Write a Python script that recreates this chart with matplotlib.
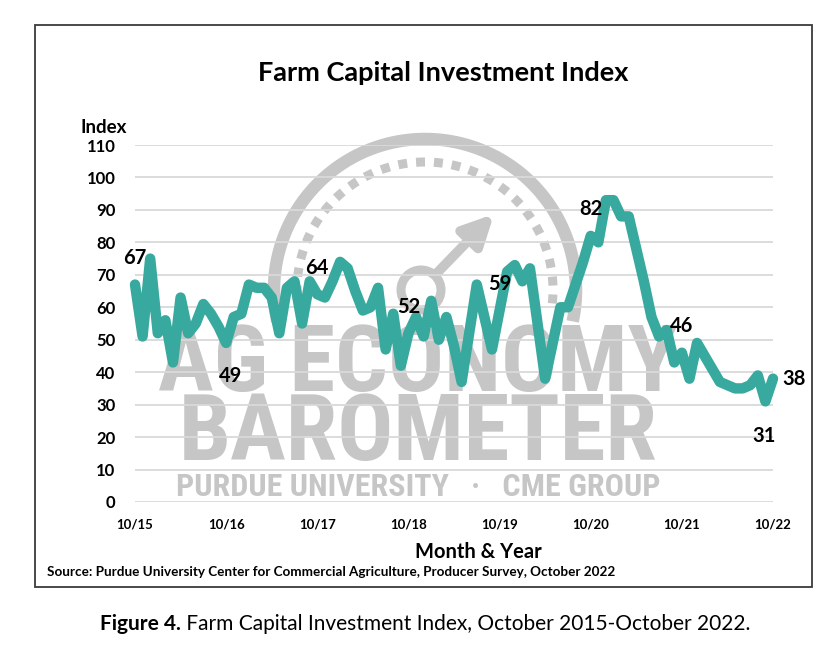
import numpy as np
import matplotlib
matplotlib.use('Agg')
import matplotlib.pyplot as plt
from matplotlib import font_manager
from matplotlib.patches import Rectangle, Circle

plt.rcParams['font.family'] = ['Lato', 'DejaVu Sans']

# monthly index, Oct 2015 .. Oct 2022
index_values = [67, 51, 75, 52, 56, 43, 63, 52, 55, 61, 58, 54,
                49, 57, 58, 67, 66, 66, 63, 52, 66, 68, 55, 68,
                64, 63, 68, 74, 72, 65, 59, 60, 66, 47, 58, 42,
                52, 57, 51, 62, 50, 57, 48, 37, 52, 67, 57, 47,
                59, 71, 73, 68, 72, 55, 38, 49, 60, 60, 67, 74,
                82, 80, 93, 93, 88, 88, 78, 68, 57, 51, 53, 43,
                46, 38, 49, 45, 41, 37, 36, 35, 35, 36, 39, 31,
                38]
tick_labels = ['10/15', '10/16', '10/17', '10/18', '10/19', '10/20', '10/21', '10/22']
label_months = [0, 12, 24, 36, 48, 60, 72, 83, 84]
label_offsets = [(0, 19), (3, -24), (0, 19), (0, 19), (0, 19), (0, 19), (0, 19), (-1, -25), (15, 0)]

teal = '#38a99e'
wm = '#c6c6c6'

fig = plt.figure(figsize=(8.4, 6.5), dpi=100)

# background layer in pixel coordinates
bg = fig.add_axes([0, 0, 1, 1], zorder=0)
bg.set_xlim(0, 840)
bg.set_ylim(650, 0)
bg.axis('off')

bg.add_patch(Rectangle((35, 25), 777, 562, fill=False, ec='#3a3a3a', lw=1.3))

# watermark gauge
th = np.radians(np.linspace(-12, 192, 200))
bg.plot(425 + 151 * np.cos(th), 290 - 151 * np.sin(th), color=wm, lw=9, solid_capstyle='butt')
for a in np.arange(-4, 188, 8):
    t = np.radians(np.linspace(a - 2, a + 2, 5))
    bg.plot(425 + 128 * np.cos(t), 290 - 128 * np.sin(t), color=wm, lw=6.5, solid_capstyle='butt')
bg.add_patch(Circle((421, 290), 20, fill=False, ec=wm, lw=6.5))
bg.annotate('', xy=(496, 212), xytext=(436, 274),
            arrowprops=dict(arrowstyle='-|>', lw=7, color=wm, mutation_scale=45))

# pick a narrow face for the watermark lettering if one is installed
narrow = None
for f in font_manager.fontManager.ttflist:
    if f.name in ('Liberation Sans Narrow', 'Roboto Condensed', 'Open Sans Condensed', 'DejaVu Sans Condensed'):
        narrow = (f.name, 'normal')
        break
if narrow is None:
    for f in font_manager.fontManager.ttflist:
        if 'condensed' in str(f.stretch) and f.weight in ('bold', 700):
            narrow = (f.name, f.stretch)
            break
if narrow is not None:
    wm_kw = dict(family=narrow[0], fontstretch=narrow[1])
    big, small = 67, 23
else:
    wm_kw = dict(family='DejaVu Sans')
    big, small = 47, 17
bg.text(418, 391, 'AG ECONOMY', fontsize=big, weight='bold', color=wm, ha='center', va='baseline', **wm_kw)
bg.text(418, 460, 'BAROMETER', fontsize=big, weight='bold', color=wm, ha='center', va='baseline', **wm_kw)
bg.text(418, 496, 'PURDUE UNIVERSITY   ·   CME GROUP', fontsize=small, weight='bold',
        color=wm, ha='center', va='baseline', **wm_kw)

bg.text(443, 81, 'Farm Capital Investment Index', fontsize=19.5, weight='bold', ha='center', va='baseline')
bg.text(104, 133, 'Index', fontsize=13.5, weight='bold', ha='center', va='baseline')
bg.text(478, 558, 'Month & Year', fontsize=14.5, weight='bold', ha='center', va='baseline')
bg.text(47, 576, 'Source: Purdue University Center for Commercial Agriculture, Producer Survey, October 2022',
        fontsize=9.7, weight='bold', ha='left', va='baseline')
cap = bg.text(100, 630, 'Figure 4.', fontsize=15, weight='bold', ha='left', va='baseline')
bg.annotate(' Farm Capital Investment Index, October 2015-October 2022.', xy=(1, 0), xycoords=cap,
            fontsize=15, ha='left', va='bottom')

# main chart
ax = fig.add_axes([135 / 840, 1 - 502 / 650, 638 / 840, 357 / 650], zorder=1)
ax.set_facecolor('none')
months = np.arange(len(index_values))
ax.plot(months, index_values, color=teal, lw=7.5, solid_joinstyle='round', solid_capstyle='round',
        clip_on=False, zorder=3)
ax.set_xlim(0, 84)
ax.set_ylim(0, 110)
ax.set_yticks(np.arange(0, 111, 10))
ax.set_xticks(np.arange(0, 85, 12))
ax.set_xticklabels(tick_labels)
ax.grid(axis='y', color='#d9d9d9', lw=1.3)
ax.set_axisbelow(True)
for s in ax.spines.values():
    s.set_visible(False)
ax.tick_params(length=0)
ax.tick_params(axis='y', labelsize=12, pad=14)
ax.tick_params(axis='x', labelsize=9.5, pad=12)
for lab in ax.get_xticklabels() + ax.get_yticklabels():
    lab.set_fontweight('bold')

for m, (dx, dy) in zip(label_months, label_offsets):
    ax.annotate(str(index_values[m]), xy=(m, index_values[m]), xytext=(dx, dy), textcoords='offset points',
                fontsize=14.5, weight='bold', ha='center', va='center')

fig.savefig('out.png', dpi=100)
